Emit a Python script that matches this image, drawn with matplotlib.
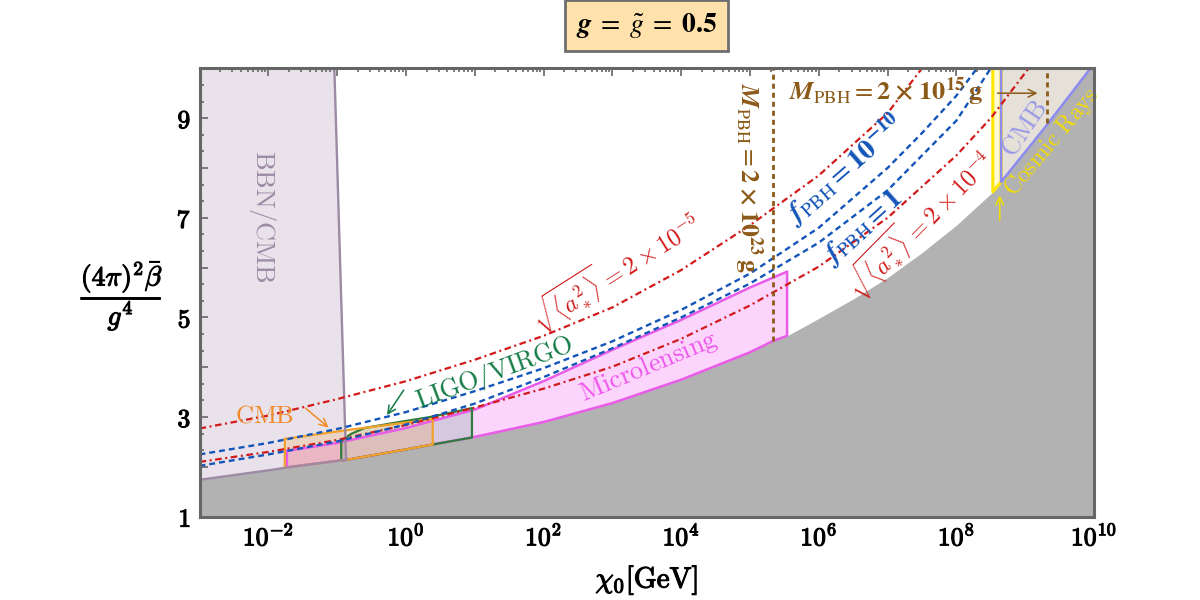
import numpy as np
import matplotlib
matplotlib.use('Agg')
import matplotlib.pyplot as plt
import matplotlib.patheffects as pe
from matplotlib.ticker import FixedLocator, FixedFormatter, NullFormatter

plt.rcParams['mathtext.fontset'] = 'cm'
plt.rcParams['font.family'] = ['DejaVu Serif']

# ---------------- data (log10 of chi_0 [GeV], y values) ----------------
# lower excluded (grey) boundary
grey_logx = [-3, -2, -1.76, -1.73, -1, -0.94, -0.87, 0, 0.39, 0.96, 2, 3, 4, 5, 5.34, 5.54,
             6, 6.5, 7, 7.5, 8, 8.53, 8.65, 9.28, 9.95, 10.05]
grey_y = [1.74, 1.93, 1.98, 1.99, 2.12, 2.13, 2.14, 2.35, 2.45, 2.59, 2.90, 3.28, 3.75, 4.30,
          4.53, 4.63, 4.98, 5.37, 5.80, 6.30, 6.85, 7.52, 7.72, 8.80, 10.0, 10.2]

# BBN/CMB right boundary
bbn_right_logx = [-0.87, -0.95, -1.04]
bbn_right_y = [2.14, 5.80, 10.0]

# CMB (orange) box
cmb_lo_logx = [-1.76, -0.9, 0.39]
cmb_lo_top = [2.56, 2.73, 2.96]

# LIGO/VIRGO box
ligo_logx = [-0.94, -0.8, -0.6, -0.1, 0.35, 0.96]
ligo_top = [2.52, 2.66, 2.78, 2.90, 3.00, 3.18]

# Microlensing box
micro_logx = [-1.73, -1, 0, 1, 2, 3, 4, 5, 5.54]
micro_top = [2.32, 2.48, 2.78, 3.15, 3.72, 4.35, 4.95, 5.60, 5.92]

# Cosmic rays strip and CMB (high mass) region
cr_logx = [8.53, 8.53, 8.65, 8.65]
cr_y = [10.0, 7.52, 7.72, 10.0]
cmb_hi_logx = [8.65, 8.65, 9.28, 9.95]
cmb_hi_y = [10.0, 7.72, 8.80, 10.0]

# spin contours sqrt(<a*^2>)
a5_logx = [-3, -2, -1, 0, 1, 2, 3, 4, 5, 6, 7, 7.5]
a5_y = [2.77, 3.03, 3.36, 3.72, 4.15, 4.63, 5.20, 5.95, 6.85, 7.85, 9.10, 10.0]
a4_logx = [-3, -2, -1, 0, 1, 2, 3, 4, 5, 6, 7, 8, 8.5, 9.05]
a4_y = [2.10, 2.30, 2.54, 2.84, 3.19, 3.57, 4.01, 4.57, 5.24, 6.02, 7.00, 8.25, 9.00, 10.0]

# f_PBH contours
f10_logx = [-3, -2, -1, 0, 1, 2, 3, 4, 5, 6, 7, 7.5, 8, 8.3]
f10_y = [2.25, 2.48, 2.76, 3.10, 3.52, 3.98, 4.52, 5.15, 5.88, 6.80, 8.00, 8.70, 9.45, 10.0]
f1_logx = [-3, -2, -1, 0, 1, 2, 3, 4, 5, 6, 7, 8, 8.5]
f1_y = [2.02, 2.25, 2.51, 2.85, 3.27, 3.80, 4.38, 5.00, 5.68, 6.50, 7.55, 8.95, 10.0]

# M_PBH vertical lines
m23_logx, m23_ybot = 5.34, 4.53
m15_logx, m15_ybot = 9.31, 8.90

x_exps = list(range(-3, 11))
y_major = list(range(1, 11))

# ---------------- figure ----------------
fig = plt.figure(figsize=(12, 6), dpi=100)
ax = fig.add_axes([199.5 / 1200, 83.3 / 600, 894.5 / 1200, 448.4 / 600])
ax.set_xscale('log')
ax.set_xlim(1e-3, 1e10)
ax.set_ylim(1, 10)


def X(v):
    return 10.0 ** np.asarray(v, dtype=float)


gl = np.array(grey_logx)
gy = np.array(grey_y)


def grey_between(a, b):
    m = (gl >= a - 1e-9) & (gl <= b + 1e-9)
    return list(gl[m]), list(gy[m])


# BBN/CMB region
bx, by = grey_between(-3, -0.87)
ax.fill(X(bx + bbn_right_logx[1:] + [-3]), by + bbn_right_y[1:] + [10.0],
        fc='#e9e2ea', ec='none', zorder=1)

# Microlensing
mx, my = grey_between(-1.73, 5.54)
ax.fill(X(micro_logx + mx[::-1]), micro_top + my[::-1], fc='#f030f0', alpha=0.2,
        ec='none', zorder=2)
# LIGO
lx, ly = grey_between(-0.94, 0.96)
ax.fill(X(ligo_logx + lx[::-1]), ligo_top + ly[::-1], fc='#3c966e', alpha=0.2,
        ec='none', zorder=2.1)
# CMB orange
cx, cy = grey_between(-1.76, 0.39)
ax.fill(X(cmb_lo_logx + cx[::-1]), cmb_lo_top + cy[::-1], fc='#f5a03c', alpha=0.22,
        ec='none', zorder=2.2)
# cosmic rays / CMB high
ax.fill(X(cr_logx), cr_y, fc='#fffad2', ec='none', zorder=2)
ax.fill(X(cmb_hi_logx), cmb_hi_y, fc='#e5e0d8', ec='none', zorder=2)

# grey excluded region
ax.fill_between(X(grey_logx), 0.5, grey_y, color='#b2b2b2', lw=0, zorder=3)

# region edges
ax.plot(X(micro_logx + mx[::-1] + [micro_logx[0]]), micro_top + my[::-1] + [micro_top[0]],
        color='#e85ce8', lw=1.8, zorder=4)
ax.plot(X(ligo_logx + lx[::-1] + [ligo_logx[0]]), ligo_top + ly[::-1] + [ligo_top[0]],
        color='#2e7d3a', lw=1.6, zorder=4.1)
ax.plot(X(cmb_lo_logx + cx[::-1] + [cmb_lo_logx[0]]), cmb_lo_top + cy[::-1] + [cmb_lo_top[0]],
        color='#f2a22a', lw=1.6, zorder=4.2)
ax.plot(X(bx + bbn_right_logx[1:]), by + bbn_right_y[1:], color='#9d8aa5', lw=1.7, zorder=4.3)
ax.plot(X(cr_logx), cr_y, color='#ffe600', lw=2.2, zorder=4)
ax.plot(X(cmb_hi_logx), cmb_hi_y, color='#8c8cf0', lw=1.8, zorder=4.1)

# contours
red = '#d21a1a'
blue = '#1455b9'
brown = '#8c5a19'
ax.plot(X(a5_logx), a5_y, color=red, lw=1.6, ls=(0, (3.0, 1.6, 0.9, 1.6)), zorder=5)
ax.plot(X(a4_logx), a4_y, color=red, lw=1.6, ls=(0, (3.0, 1.6, 0.9, 1.6)), zorder=5)
ax.plot(X(f10_logx), f10_y, color=blue, lw=1.7, ls=(0, (2.5, 1.7)), zorder=5)
ax.plot(X(f1_logx), f1_y, color=blue, lw=1.7, ls=(0, (2.5, 1.7)), zorder=5)
ax.plot(X([m23_logx, m23_logx]), [m23_ybot, 10.0], color=brown, lw=2.0, ls=(0, (1.8, 1.45)),
        zorder=5)
ax.plot(X([m15_logx, m15_logx]), [m15_ybot, 10.0], color=brown, lw=2.0, ls=(0, (1.8, 1.45)),
        zorder=5)


def lab(lxv, yv, s, color, size, rot, **kw):
    return ax.text(10 ** lxv, yv, s, color=color, fontsize=size, rotation=rot, ha='center',
                   va='center', rotation_mode='anchor', zorder=7, **kw)


lab(-2.08, 7.02, r'$\mathrm{BBN/CMB}$', '#9d8aa5', 19, -90)
lab(-2.06, 3.03, r'$\mathrm{CMB}$', '#f08a2a', 18, 0)
lab(1.30, 3.88, r'$\mathrm{LIGO/VIRGO}$', '#117a45', 18.5, 20.5)
lab(3.53, 4.01, r'$\mathrm{Microlensing}$', '#ee55ee', 19, 22.7)
lab(3.05, 5.95, r'$\sqrt{\langle a_*^2\rangle} = \mathbf{2}\times\mathbf{10^{-5}}$', red, 17.5,
    32.5)
lab(7.46, 6.89, r'$\sqrt{\langle a_*^2\rangle} = \mathbf{2}\times\mathbf{10^{-4}}$', red, 17.5,
    45.5)
lab(6.39, 7.95, r'$\boldsymbol{f}_{\mathrm{PBH}} = \mathbf{10^{-10}}$', blue, 20.5, 41,
    math_fontfamily='stix')
lab(6.65, 6.80, r'$\boldsymbol{f}_{\mathrm{PBH}} = \mathbf{1}$', blue, 20.5, 42,
    math_fontfamily='stix')
lab(4.98, 7.80,
    r'$\boldsymbol{M}_{\mathrm{PBH}} = \mathbf{2}\;\boldsymbol{\times}\;\mathbf{10^{23}}\,\mathbf{g}$',
    brown, 18.5, -90, math_fontfamily='stix')
lab(6.98, 9.53,
    r'$\boldsymbol{M}_{\mathrm{PBH}} = \mathbf{2}\;\boldsymbol{\times}\;\mathbf{10^{15}}\,\mathbf{g}$',
    brown, 19, 0, math_fontfamily='stix')
lab(8.99, 8.80, r'$\mathrm{CMB}$', '#9898e8', 19, 56)
lab(9.38, 8.52, r'$\mathrm{Cosmic\ Rays}$', '#f2dc00', 17, 50)


def arrow(x0, y0, x1, y1, color):
    ax.annotate('', xy=(10 ** x1, y1), xytext=(10 ** x0, y0), zorder=7,
                arrowprops=dict(arrowstyle='->', color=color, lw=1.1, shrinkA=0, shrinkB=0,
                                mutation_scale=14))


arrow(-1.46, 3.18, -1.125, 2.79, '#f08a2a')
arrow(-0.033, 3.54, -0.275, 3.04, '#117a45')
arrow(8.60, 9.50, 9.18, 9.50, brown)
arrow(8.63, 6.95, 8.63, 7.45, '#f2dc00')

# ---------------- ticks & frame ----------------
ax.xaxis.set_major_locator(FixedLocator(X(x_exps)))
ax.xaxis.set_major_formatter(FixedFormatter(
    [r'$\mathbf{10^{%d}}$' % e if e % 2 == 0 else '' for e in x_exps]))
ax.xaxis.set_minor_locator(FixedLocator([m * 10.0 ** e for e in x_exps[:-1] for m in range(2, 10)]))
ax.xaxis.set_minor_formatter(NullFormatter())
ax.yaxis.set_major_locator(FixedLocator(y_major))
ax.yaxis.set_major_formatter(FixedFormatter(
    [r'$\mathbf{%d}$' % v if v % 2 == 1 else '' for v in y_major]))
ax.yaxis.set_minor_locator(FixedLocator([1 + k / 3 for k in range(28) if k % 3 != 0]))
ax.yaxis.set_minor_formatter(NullFormatter())
ax.tick_params(which='both', direction='in', top=True, right=True, color='#666666',
               width=1.2, labelsize=18.5)
ax.tick_params(which='major', length=6)
ax.tick_params(which='minor', length=3)
ax.tick_params(axis='x', pad=5)
ax.tick_params(axis='y', pad=6)
for s in ax.spines.values():
    s.set_linewidth(2.2)
    s.set_color('#666666')
    s.set_zorder(10)

bold_fx = [pe.withStroke(linewidth=0.8, foreground='black')]
for t in ax.get_xticklabels() + ax.get_yticklabels():
    t.set_path_effects(bold_fx)

ax.text(0.5, -0.141, r'$\chi_0[\mathrm{GeV}]$', transform=ax.transAxes, ha='center',
        va='center', fontsize=21, path_effects=bold_fx)
ax.text(-0.0866, 0.494, r'$\dfrac{(4\pi)^{2}\bar{\beta}}{g^{4}}$',
        transform=ax.transAxes, ha='center', va='center', fontsize=20, path_effects=bold_fx)

fig.text(646.7 / 1200, 1 - 25.5 / 600,
         r'$\boldsymbol{g}\;=\;\boldsymbol{\tilde{g}}\;=\;\mathbf{0.5}$', ha='center',
         va='center', fontsize=20, math_fontfamily='stix',
         bbox=dict(boxstyle='square,pad=0.38', fc='#ffe2ab', ec='#6e6e6e', lw=2))

fig.savefig('out.png', dpi=100, facecolor='white')
